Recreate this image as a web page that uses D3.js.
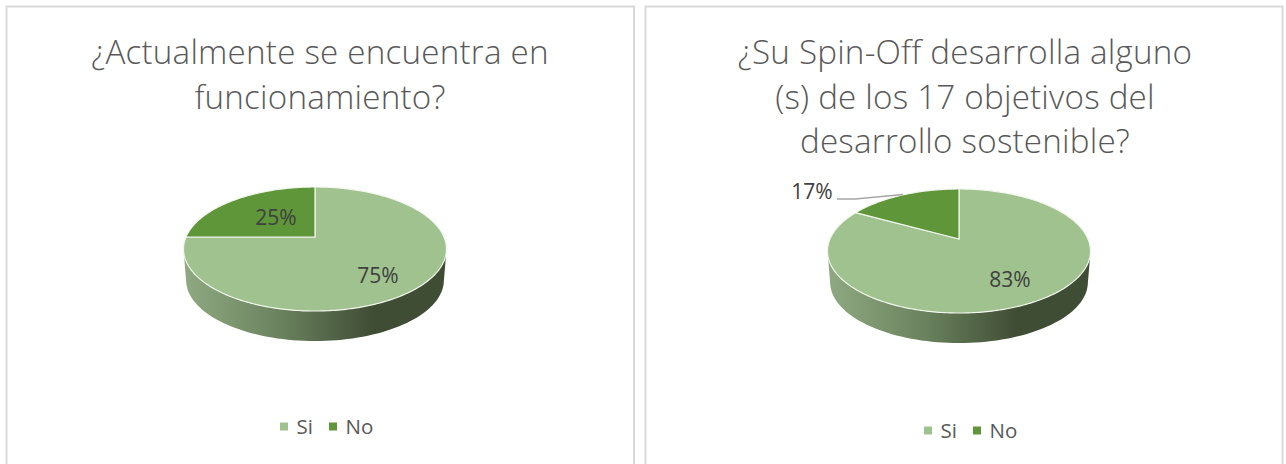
<!DOCTYPE html>
<html><head><meta charset="utf-8">
<script src="https://cdn.jsdelivr.net/npm/d3@7/dist/d3.min.js"></script>
<style>html,body{margin:0;padding:0;background:#fff;overflow:hidden}text{font-family:"Open Sans",sans-serif}</style>
</head><body><svg id="c" width="1286" height="464"></svg>
<script>
const categories = ["Si", "No"];
const valuesLeft = [75, 25];
const valuesRight = [83, 17];
const titleLeft = ["¿Actualmente se encuentra en", "funcionamiento?"];
const titleRight = ["¿Su Spin-Off desarrolla alguno", "(s) de los 17 objetivos del", "desarrollo sostenible?"];
const colors = ["#9fc28e", "#5f9639"];

const svg = d3.select("#c");
const defs = svg.append("defs");
const grad = defs.append("linearGradient").attr("id", "side");
[[0, "#8fa982"], [0.35, "#6c8560"], [0.72, "#404d35"], [1, "#404d35"]].forEach(s =>
  grad.append("stop").attr("offset", s[0]).attr("stop-color", s[1]));

const R = 129, C = 0.1935, A = 59.7, DEPTH = 31;
const project = (a, f = 1) => {
  const u = Math.sin(a) * f, v = -Math.cos(a) * f, d = 1 - C * v;
  return [R * u / d, A * v / d];
};
const line = d3.line();

function chart(o) {
  const g = svg.append("g");
  g.append("rect").attr("x", o.frame[0]).attr("y", o.frame[1]).attr("width", o.frame[2]).attr("height", o.frame[3])
    .attr("fill", "#fff").attr("stroke", "#d9d9d9").attr("stroke-width", 2);
  g.selectAll("text.t").data(o.title).join("text").attr("class", "t")
    .attr("x", o.titleX).attr("y", (d, i) => o.titleY + i * 44.7)
    .attr("text-anchor", "middle").attr("font-size", 33.2).attr("letter-spacing", 0.2).attr("font-weight", 300).attr("fill", "#595959").text(d => d);

  const pie = g.append("g").attr("transform", `translate(${o.cx},${o.cy})`);
  const rim = d3.range(0, 361, 2).map(d => project(d * Math.PI / 180));
  const iL = d3.minIndex(rim, p => p[0]), iR = d3.maxIndex(rim, p => p[0]);
  const front = rim.slice(iR, iL + 1);
  const back = front.map(p => [p[0] * 0.98, p[1] * 0.98 + DEPTH + 0.5]).reverse();
  pie.append("path").attr("d", line(front.concat(back)) + "Z").attr("fill", "url(#side)");

  const arcs = d3.pie().sort(null)(o.values);
  pie.selectAll("path.s").data(arcs).join("path").attr("class", "s")
    .attr("d", d => {
      const n = Math.ceil((d.endAngle - d.startAngle) * 60);
      const pts = d3.range(n + 1).map(i => project(d.startAngle + (d.endAngle - d.startAngle) * i / n));
      return line([[0, 0]].concat(pts)) + "Z";
    })
    .attr("fill", (d, i) => colors[i]).attr("stroke", "#f2f6ee").attr("stroke-width", 1.2).attr("stroke-linejoin", "round");

  if (o.leader) g.append("path").attr("d", line(o.leader)).attr("fill", "none").attr("stroke", "#a6a6a6").attr("stroke-width", 1.3);

  g.selectAll("text.l").data(o.values).join("text").attr("class", "l")
    .attr("x", (d, i) => o.labels[i][0]).attr("y", (d, i) => o.labels[i][1])
    .attr("text-anchor", "middle").attr("dominant-baseline", "central")
    .attr("font-size", 21).attr("fill", "#404040").text(d => d + "%");

  const lg = g.selectAll("g.lg").data(categories).join("g").attr("class", "lg");
  lg.append("rect").attr("x", (d, i) => o.legendX[i]).attr("y", o.legendY - 3).attr("width", 8).attr("height", 8).attr("fill", (d, i) => colors[i]);
  lg.append("text").attr("x", (d, i) => o.legendX[i] + 16.5).attr("y", o.legendY).attr("dominant-baseline", "central")
    .attr("font-size", 20.5).attr("fill", "#595959").text(d => d);
}

chart({ frame: [6.5, 6.5, 627.5, 470], title: titleLeft, titleX: 320, titleY: 64, values: valuesLeft,
  cx: 315, cy: 237, labels: [[378, 275], [276, 217]], legendX: [280, 329], legendY: 425.5 });
chart({ frame: [645.5, 6.5, 637, 470], title: titleRight, titleX: 965, titleY: 64, values: valuesRight,
  cx: 959, cy: 239, labels: [[1010, 279], [812, 191]], legendX: [924, 973], legendY: 429.5,
  leader: [[837, 199], [855, 199], [903, 194.5]] });
</script></body></html>
